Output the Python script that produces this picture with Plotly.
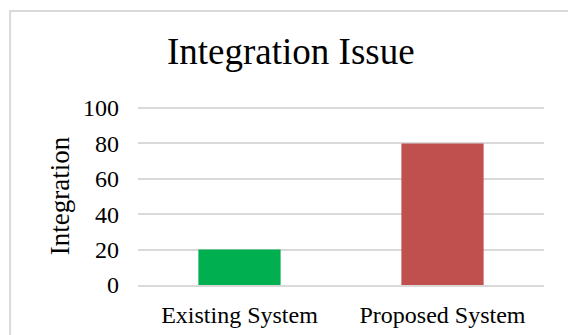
import plotly.graph_objects as go

categories = ["Existing System", "Proposed System"]
integration = [20, 80]
bar_colors = ["#00B050", "#C0504D"]
y_ticks = [0, 20, 40, 60, 80, 100]

FONT = "Liberation Serif, Times New Roman, serif"

fig = go.Figure(
    go.Bar(
        x=categories,
        y=integration,
        marker=dict(color=bar_colors, line=dict(width=0)),
        width=0.405,
    )
)

fig.update_layout(
    width=568,
    height=335,
    margin=dict(l=138, r=24, t=107, b=50),
    paper_bgcolor="white",
    plot_bgcolor="white",
    showlegend=False,
    font=dict(family=FONT, color="black", size=24),
    title=dict(
        text="Integration Issue",
        font=dict(family=FONT, size=37, color="black"),
        x=0.512,
        xanchor="center",
        y=0.81,
        yanchor="bottom",
    ),
)

fig.update_yaxes(
    range=[0, 100.6],
    tickvals=y_ticks,
    showgrid=True,
    gridcolor="#D9D9D9",
    gridwidth=1.5,
    zeroline=False,
    showline=False,
    ticks="",
    ticklabelstandoff=18,
    tickfont=dict(size=24),
    title=dict(text="Integration", font=dict(size=27), standoff=5),
    automargin=False,
)

fig.update_xaxes(
    showline=True,
    linecolor="#D9D9D9",
    linewidth=1.5,
    showgrid=False,
    ticks="",
    ticklabelstandoff=7,
    tickfont=dict(size=24),
    automargin=False,
)

# light outer frame of the chart area
fig.add_shape(
    type="rect",
    xref="paper",
    yref="paper",
    x0=-0.315,
    x1=1.5,
    y0=-1.0,
    y1=1.54,
    line=dict(color="#D9D9D9", width=2),
    fillcolor="rgba(0,0,0,0)",
    layer="below",
)

fig.write_html("out.html")
